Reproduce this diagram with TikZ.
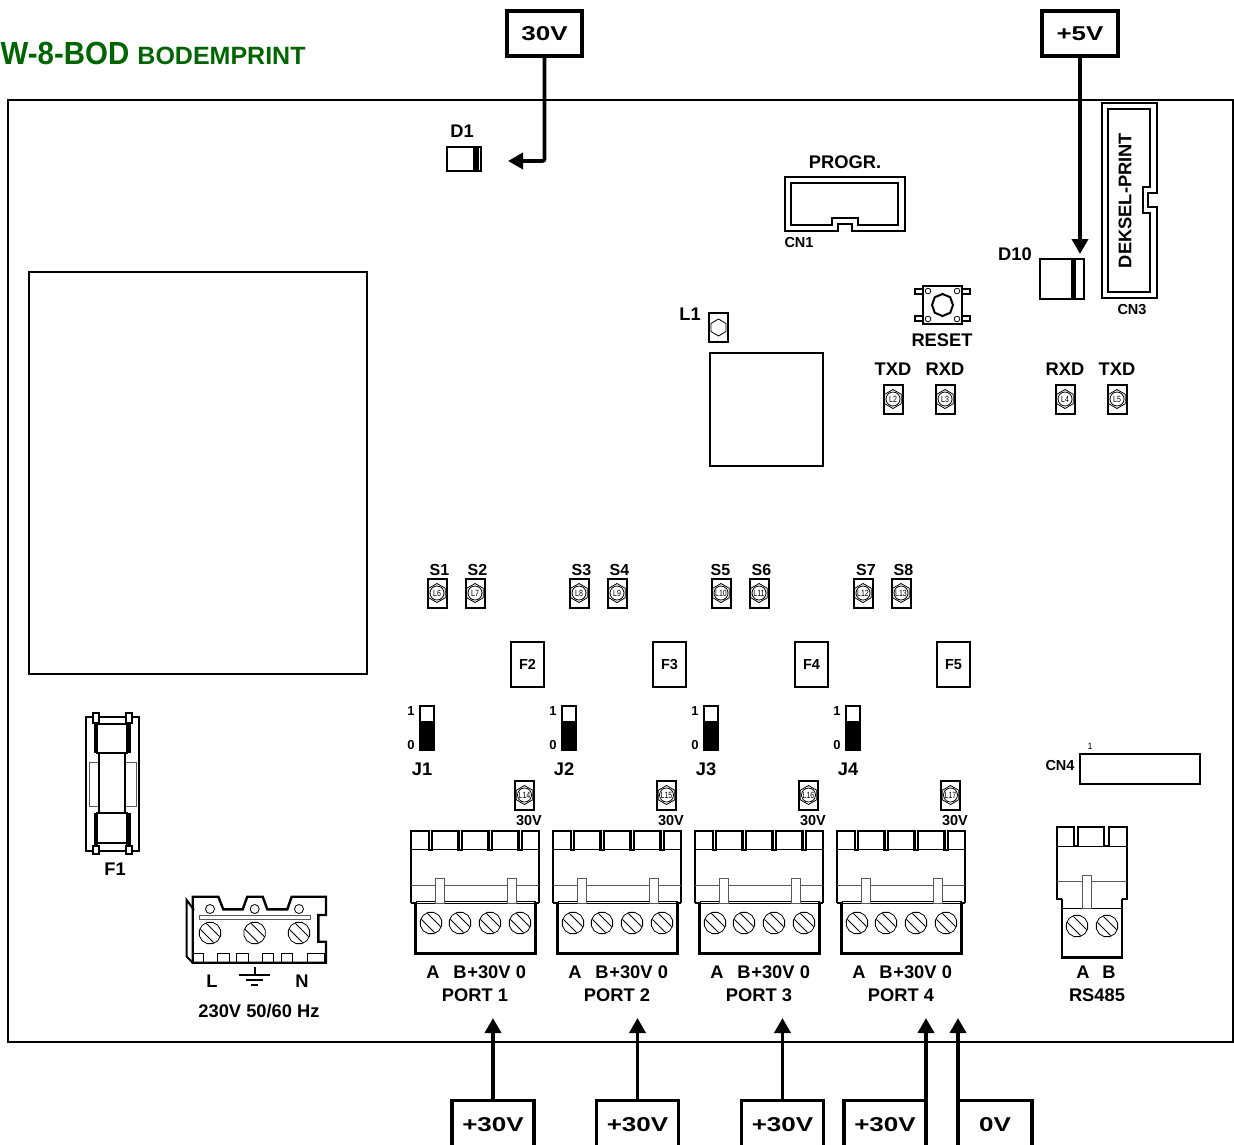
\documentclass[tikz,border=0pt]{standalone}
\usepackage{fontspec}
\setmainfont{Liberation Sans}
\newfontfamily\widefont[FakeStretch=1.3]{Liberation Sans}
\newfontfamily\narrowfont[FakeStretch=0.78]{Liberation Sans}
\usepackage{tikz}
\usetikzlibrary{arrows.meta}
\definecolor{titlegreen}{RGB}{0,100,0}
\tikzset{
  part/.style={line width=2pt, line join=miter},
  heavy/.style={line width=2.4pt, line join=miter},
  fine/.style={line width=0.8pt},
  faint/.style={line width=1pt, black!65},
  txtL/.style={inner sep=0pt, font=\bfseries\fontsize{18.3}{19}\selectfont},
  txtM/.style={inner sep=0pt, font=\bfseries\fontsize{16}{16}\selectfont},
  txtS/.style={inner sep=0pt, font=\bfseries\fontsize{14.5}{15}\selectfont},
  txtJ/.style={inner sep=0pt, font=\bfseries\fontsize{13}{13}\selectfont},
  supply/.style={draw, line width=3.3pt, inner sep=0pt, outer sep=0pt, minimum height=45pt,
    font=\widefont\bfseries\fontsize{20}{20}\selectfont},
  feed/.style={line width=3.6pt, -{Triangle[width=16pt,length=15pt]}},
  pics/ledpad/.style={code={
    \draw[part] (-9.5,-14.5) rectangle (9.5,14.5);
    \draw[fine] (0,-9.5) -- (8.2,-4.75) -- (8.2,4.75) -- (0,9.5) -- (-8.2,4.75) -- (-8.2,-4.75) -- cycle;
    \draw[fine] (0,0) circle (7);
    \node[inner sep=0pt, font=\narrowfont\fontsize{9}{9}\selectfont] (-txt) {#1};
  }},
  pics/screw/.style={code={
    \draw[fine, fill=white] (15:11) \foreach \a in {45,75,...,345} { -- (\a:11) } -- cycle;
    \draw[fine] (-9.6,-3.6) -- (3.6,9.6);
    \draw[fine] (-3.6,-9.6) -- (9.6,3.6);
  }},
  pics/portblock/.style={code={
    % upper housing with the four slots
    \draw[heavy] (0,72) -- (0,0) -- (18,0) -- (18,19) -- (21,19) -- (21,0) -- (47.5,0) -- (47.5,19) -- (51,19)
      -- (51,0) -- (77.5,0) -- (77.5,19) -- (81,19) -- (81,0) -- (107.5,0) -- (107.5,19) -- (111,19) -- (111,0)
      -- (128,0) -- (128,72);
    \draw[fine] (0,18) -- (128,18);
    \draw[faint] (0,54) -- (128,54);
    \draw[heavy] (0,72) -- (4.5,72) -- (4.5,123) -- (124.5,123) -- (124.5,72) -- (128,72);
    \draw[fine] (4.5,72) -- (124.5,72);
    \draw[fine] (4.5,70) -- (124.5,70);
    \draw[fine] (4.5,121) -- (124.5,121);
    % tabs
    \draw[faint, fill=white] (24,47) rectangle (33,72);
    \draw[faint, fill=white] (96,47) rectangle (105,72);
    \foreach \sx in {20,49,79,109} { \path (\sx,92) pic {screw}; }
  }},
}
\begin{document}
\begin{tikzpicture}[x=1pt,y=-1pt]
  \clip (0,0) rectangle (1234,1144);
  \fill[white] (0,0) rectangle (1234,1144);

  % Title
  \node[anchor=base west, inner sep=0pt, text=titlegreen, font=\bfseries\fontsize{32}{32}\selectfont]
    (title) at (0.5,64) {\addfontfeature{FakeStretch=0.92}W-8-BOD {\fontsize{25}{25}\selectfont\addfontfeature{FakeStretch=1} BODEMPRINT}};

  % Board outline and large parts
  \draw[line width=2.4pt] (8,100) rectangle (1233,1042);
  \draw[part] (29,272) rectangle (367,674);
  \draw[part] (710,353) rectangle (823,466);

  % Diodes
  \draw[part] (447,147) rectangle (481,171);
  \fill (473,147) rectangle (478.5,171);
  \node[txtL] (d1) at (462,131) {D1};
  \draw[part] (1040,259) rectangle (1084,299);
  \fill (1071,259) rectangle (1076,299);
  \node[txtL] (d10) at (1015,254) {D10};

  % CN1
  \draw[part] (785,177) -- (905,177) -- (905,231) -- (852,231) -- (852,224) -- (838,224) -- (838,231) -- (785,231) -- cycle;
  \draw[part] (791,183) -- (898,183) -- (898,225) -- (858,225) -- (858,218) -- (832,218) -- (832,225) -- (791,225) -- cycle;
  \node[txtL] (progr) at (845,162) {PROGR.};
  \node[txtS] (cn1) at (799,243) {CN1};

  % CN3
  \draw[part] (1102,103) -- (1157,103) -- (1157,193) -- (1148,193) -- (1148,207) -- (1157,207) -- (1157,298) -- (1102,298) -- cycle;
  \draw[part] (1108,109) -- (1150,109) -- (1150,187) -- (1143,187) -- (1143,213) -- (1150,213) -- (1150,292) -- (1108,292) -- cycle;
  \node[txtL, rotate=90] (deksel) at (1125,200.5) {DEKSEL-PRINT};
  \node[txtS] (cn3) at (1132,310) {CN3};

  % Reset button
  \draw[line width=1.3pt] (915,289) rectangle (923,294);
  \draw[line width=1.3pt] (915,316) rectangle (923,321);
  \draw[line width=1.3pt] (962,289) rectangle (970,294);
  \draw[line width=1.3pt] (962,316) rectangle (970,321);
  \draw[part] (923,286) rectangle (962,324);
  \foreach \cx/\cy in {928/291, 957/291, 928/319, 957/319} {
    \draw[fine, fill=white] (\cx,\cy) circle (2.8);
  }
  \draw[part] (953,305) -- (950.2,312.8) -- (942.5,316) -- (934.8,312.8) -- (932,305) -- (934.8,297.2) -- (942.5,294) -- (950.2,297.2) -- cycle;
  \node[txtL] (reset) at (942,340) {RESET};

  % L1 and communication leds
  \draw[part] (709,313) rectangle (728,342);
  \draw[fine] (718.5,319) -- (726,323.5) -- (726,331.5) -- (718.5,336) -- (711,331.5) -- (711,323.5) -- cycle;
  \node[txtL] (l1) at (690,314) {L1};
  \foreach \n/\x/\t in {L2/893/TXD, L3/945/RXD, L4/1065/RXD, L5/1117/TXD} {
    \path (\x,399) pic (\n) {ledpad=\n};
    \node[txtL] (t\n) at (\x,369) {\t};
  }

  % Switch labels
  \foreach \n/\x in {S1/439.5, S2/477.5, S3/581.5, S4/619.5, S5/720.5, S6/761.5, S7/866, S8/903.5} {
    \node[txtM] (\n) at (\x,569.5) {\n};
  }

  % One column for each port
  \foreach \i/\dx/\la/\lb/\lv/\fn in {1/0/6/7/14/2, 2/142/8/9/15/3, 3/284/10/11/16/4, 4/426/12/13/17/5} {
    \begin{scope}[xshift=\dx pt]
      \path (437,593) pic (L\la) {ledpad=L\la};
      \path (475,593) pic (L\lb) {ledpad=L\lb};
      % fuse holder
      \node[draw, line width=2pt, inner sep=0pt, minimum width=33pt, minimum height=45pt,
        font=\bfseries\fontsize{14.5}{15}\selectfont] (F\fn) at (527.5,664.5) {F\fn};
      % jumper
      \draw[part] (419.5,706) rectangle (433.5,750);
      \fill (419,721) rectangle (434,750);
      \node[txtJ] (ja\i) at (411,711) {1};
      \node[txtJ] (jb\i) at (411,745) {0};
      \node[txtL] (J\i) at (422,769) {J\i};
      % port led
      \path (524.5,795) pic (L\lv) {ledpad=L\lv};
      \node[txtS] (v\i) at (529,821) {30V};
      % connector
      \path (411,831) pic {portblock};
      \node[txtL] (pa\i) at (433,972) {A};
      \node[txtL] (pb\i) at (460,972) {B};
      \node[txtL] (pc\i) at (489,972) {+30V};
      \node[txtL] (pd\i) at (521,972) {0};
      \node[txtL] (port\i) at (475,995) {PORT \i};
    \end{scope}
  }

  % CN4
  \draw[part] (1080,754) rectangle (1200,784);
  \node[txtS] (cn4) at (1060,765) {CN4};
  \node[inner sep=0pt, font=\fontsize{9}{9}\selectfont] (one) at (1090,746) {1};

  % RS485 connector
  \draw[heavy] (1062,899) -- (1057,899) -- (1057,827) -- (1074,827) -- (1074,846) -- (1078,846) -- (1078,827)
    -- (1104,827) -- (1104,846) -- (1109,846) -- (1109,827) -- (1127,827) -- (1127,899) -- (1122,899);
  \draw[fine] (1057,846) -- (1127,846);
  \draw[faint] (1057,881) -- (1127,881);
  \draw[heavy] (1062,899) -- (1062,958) -- (1122,958) -- (1122,899);
  \draw[fine] (1062,908) -- (1122,908);
  \draw[fine] (1062,956) -- (1122,956);
  \draw[faint, fill=white] (1082,875) rectangle (1091,908);
  \path (1077,926) pic {screw};
  \path (1107,926) pic {screw};
  \node[txtL] (rsa) at (1083,972) {A};
  \node[txtL] (rsb) at (1109,972) {B};
  \node[txtL] (rs485) at (1097,995) {RS485};

  % F1
  \draw[part] (86,717) rectangle (139,851);
  \draw[faint, fill=white] (89,762) rectangle (136,806);
  \draw[part, fill=white] (99,753) rectangle (125,813);
  \draw[part, fill=white] (97,724) rectangle (127,753);
  \draw[part, fill=white] (97,813) rectangle (127,843);
  \fill (93.5,719) rectangle (98,753);
  \fill (126,719) rectangle (130.5,753);
  \fill (93.5,813) rectangle (98,847);
  \fill (126,813) rectangle (130.5,847);
  \foreach \px in {96,129} {
    \draw[part, fill=white] (\px-3,713) rectangle (\px+3,723);
    \draw[part, fill=white] (\px-3,846) rectangle (\px+3,854);
  }
  \node[txtL] (f1) at (115,869) {F1};

  % Mains connector
  \draw[heavy] (192.7,896.7) -- (218.3,896.7) -- (223.3,909.3) -- (242.7,909.3) -- (247.3,896.7) -- (262.7,896.7)
    -- (267.3,909.3) -- (287.3,909.3) -- (291.7,896.7) -- (326,896.7) -- (326,915) -- (318.3,915) -- (318.3,941.7)
    -- (326,941.7) -- (326,962.7) -- (192.7,962.7) -- cycle;
  \draw[part] (194,910) -- (186.7,900) -- (186.7,956.7) -- (192.7,962.7);
  \foreach \tx/\tw in {193/203, 217/229, 236/248, 262/273, 281/292, 307/324} {
    \draw[fine] (\tx,962) -- (\tx,953) -- (\tw,953) -- (\tw,962);
  }
  \draw[faint] (199,915) rectangle (310,919);
  \foreach \sx in {210,254.7,299} {
    \draw[fine] (\sx,909) circle (4.5);
    \path (\sx,933) pic {screw};
  }
  \node[txtL] (mainsl) at (212,981) {L};
  \node[txtL] (mainsn) at (302,981) {N};
  \draw[line width=1.6pt] (254.7,967) -- (254.7,975);
  \draw[line width=2pt] (239,975) -- (270,975);
  \draw[line width=2pt] (246,980) -- (263,980);
  \draw[line width=2pt] (251,985) -- (258,985);
  \node[txtL] (mains) at (259,1011) {230V 50/60 Hz};

  % Supply boxes and feeds
  \node[supply, minimum width=75pt] (top30) at (544.5,33.5) {30V};
  \node[supply, minimum width=76pt] (top5) at (1080,33.5) {+5V};
  \coordinate (d1in) at (508,161);
  \coordinate (d10in) at (1080,254);
  \draw[feed, rounded corners=2pt] (top30.south) |- (d1in);
  \draw[feed] (top5.south) -- (d10in);

  \node[supply, minimum width=82pt, minimum height=49pt] (sup1) at (493,1125) {+30V};
  \node[supply, minimum width=82pt, minimum height=49pt] (sup2) at (637.5,1125) {+30V};
  \node[supply, minimum width=82pt, minimum height=49pt] (sup3) at (782.5,1125) {+30V};
  \node[supply, minimum width=82pt, minimum height=49pt] (sup4) at (885,1125) {+30V};
  \node[supply, minimum width=74pt, minimum height=49pt] (sup0) at (995,1125) {0V};
  \coordinate (in1) at (493,1018);
  \coordinate (in2) at (637.5,1018);
  \coordinate (in3) at (782.5,1018);
  \coordinate (in4) at (sup4.north east |- 0,1018);
  \coordinate (in0) at (sup0.north west |- 0,1018);
  \draw[feed] (sup1.north) -- (in1);
  \draw[feed] (sup2.north) -- (in2);
  \draw[feed] (sup3.north) -- (in3);
  \draw[feed] (sup4.north east) -- (in4);
  \draw[feed] (sup0.north west) -- (in0);
\end{tikzpicture}
\end{document}
